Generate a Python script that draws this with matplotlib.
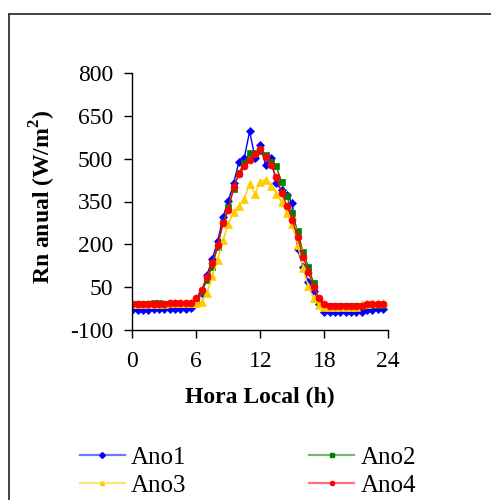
import matplotlib
matplotlib.use("Agg")
import matplotlib.pyplot as plt
from matplotlib.lines import Line2D
import numpy as np

plt.rcParams['font.family'] = ['Liberation Serif', 'DejaVu Serif']
plt.rcParams['axes.unicode_minus'] = False
plt.rcParams['mathtext.fontset'] = 'custom'
plt.rcParams['mathtext.rm'] = 'Liberation Serif'
plt.rcParams['mathtext.bf'] = 'Liberation Serif:bold'

hours = [i * 0.5 for i in range(48)]

ano1 = [-29, -29, -29, -29, -25, -25, -25, -25, -25, -25, -25, -24,
        -4, 29, 92, 148, 210, 294, 352, 414, 490, 504, 596, 504,
        547, 477, 504, 414, 390, 373, 344, 183, 122, 69, 35, -10,
        -36, -36, -36, -36, -36, -36, -36, -36, -31, -31, -27, -27]
ano2 = [-9, -9, -9, -9, -6, -6, -9, -9, -9, -9, -9, -9,
        0, 32, 75, 122, 192, 274, 330, 393, 451, 485, 520, 521,
        528, 512, 490, 473, 418, 368, 309, 245, 174, 122, 64, -1,
        -18, -16, -16, -16, -16, -16, -16, -16, -12, -12, -12, -12]
ano3 = [-9, -9, -9, -9, -9, -9, -9, -7, -7, -7, -7, -7,
        -6, -3, 31, 89, 145, 215, 271, 313, 333, 360, 413, 376,
        420, 427, 403, 378, 348, 309, 270, 198, 116, 54, 11, -12,
        -20, -19, -19, -19, -19, -19, -19, -10, -8, -7, -7, -7]
ano4 = [-9, -9, -9, -9, -9, -9, -9, -5, -5, -5, -5, -5,
        11, 40, 87, 134, 198, 274, 320, 402, 445, 475, 495, 515,
        535, 505, 478, 435, 380, 335, 286, 227, 157, 104, 50, 11,
        -10, -16, -16, -16, -16, -16, -16, -16, -9, -9, -9, -9]

labels = ["Ano1", "Ano2", "Ano3", "Ano4"]
colors = ["#0000FF", "#008000", "#FFCC00", "#FF0000"]
markers = ["D", "s", "^", "o"]
msizes = [4.5, 4.5, 5.5, 5]
series = [ano1, ano2, ano3, ano4]

xticks = [0, 6, 12, 18, 24]
yticks = [-100, 50, 200, 350, 500, 650, 800]

fig = plt.figure(figsize=(4.91, 5.0), dpi=100)
ax = fig.add_axes([0.2695, 0.34, 0.5213, 0.514])

for y, c, m, ms, lab in zip(series, colors, markers, msizes, labels):
    ax.plot(hours, y, color=c, marker=m, markersize=ms, linewidth=1.0,
            markeredgewidth=0.5, label=lab)

ax.set_xlim(0, 24)
ax.set_ylim(-100, 800)
ax.set_xticks(xticks)
ax.set_yticks(yticks)
for s in ['top', 'right']:
    ax.spines[s].set_visible(False)
for s in ['left', 'bottom']:
    ax.spines[s].set_color('#000000')
    ax.spines[s].set_linewidth(1.0)
ax.tick_params(axis='y', direction='out', length=6, width=1, pad=8, labelsize=17, colors='black')
ax.tick_params(axis='x', direction='out', length=6, width=1, pad=9, labelsize=17, colors='black')

ax.set_xlabel("Hora Local (h)", fontsize=17, fontweight='bold')
ax.set_ylabel("Rn anual (W/m$^\\mathbf{2}$)", fontsize=17, fontweight='bold')
ax.xaxis.set_label_coords(0.5, -0.22)
ax.yaxis.set_label_coords(-0.29, 0.52)

# legend with lighter lines
handles = []
for c, m, lab in zip(colors, markers, labels):
    rgba = matplotlib.colors.to_rgba(c, 0.55)
    handles.append(Line2D([], [], color=rgba, linewidth=1.6, marker=m, markersize=3,
                          markerfacecolor=c, markeredgecolor=c, label=lab))
order = [0, 2, 1, 3]
leg = fig.legend([handles[i] for i in order], [labels[i] for i in order],
                 ncol=2, loc='center', bbox_to_anchor=(0.505, 0.057),
                 frameon=False, fontsize=18, handlelength=1.8, handletextpad=0.25,
                 columnspacing=4.9, labelspacing=0.22)

# outer frame (left and top edges)
fig.add_artist(Line2D([8.5 / 491, 8.5 / 491], [0, 1 - 14 / 500], transform=fig.transFigure,
                      color='#333333', linewidth=1.3))
fig.add_artist(Line2D([8.5 / 491, 1], [1 - 14 / 500, 1 - 14 / 500], transform=fig.transFigure,
                      color='#333333', linewidth=1.3))

fig.savefig("out.png", dpi=100)
